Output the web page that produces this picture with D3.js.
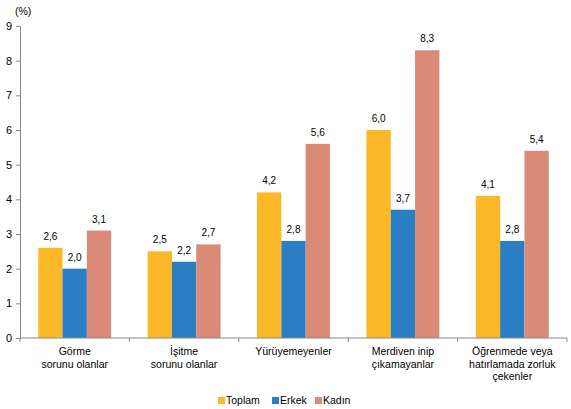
<!DOCTYPE html>
<html><head><meta charset="utf-8">
<script src="https://cdn.jsdelivr.net/npm/d3@7/dist/d3.min.js"></script>
<style>body{margin:0;background:#fff}svg{display:block;font-family:"Liberation Sans",Arial,sans-serif}</style>
</head><body><svg id="c" width="571" height="409"></svg>
<script>
const categories = [["Görme","sorunu olanlar"],["İşitme","sorunu olanlar"],["Yürüyemeyenler"],["Merdiven inip","çıkamayanlar"],["Öğrenmede veya","hatırlamada zorluk","çekenler"]];
const seriesNames = ["Toplam","Erkek","Kadın"];
const toplam = [2.6, 2.5, 4.2, 6.0, 4.1];
const erkek = [2.0, 2.2, 2.8, 3.7, 2.8];
const kadin = [3.1, 2.7, 5.6, 8.3, 5.4];
const yTicks = [0,1,2,3,4,5,6,7,8,9];
const colors = ["#FDB827","#2B7EC3","#D98B77"];
const series = [toplam, erkek, kadin];

(function(){
const svg = d3.select("#c");
const mL = 20, mR = 567, mT = 26, mB = 338;
const x0 = d3.scaleBand().domain(d3.range(categories.length)).range([mL, mR]);
const x1 = d3.scaleBand().domain(d3.range(series.length)).range([0, x0.bandwidth()]).paddingOuter(0.75);
const y = d3.scaleLinear().domain([0, 9]).range([mB, mT]);

series.forEach((s, si) => {
  svg.append("g").selectAll("rect").data(s).join("rect")
    .attr("x", (d, i) => x0(i) + x1(si))
    .attr("width", x1.bandwidth())
    .attr("y", d => y(d))
    .attr("height", d => y(0) - y(d))
    .attr("fill", colors[si]);
  svg.append("g").selectAll("text").data(s).join("text")
    .attr("x", (d, i) => x0(i) + x1(si) + x1.bandwidth() / 2)
    .attr("y", d => y(d) - 8)
    .attr("text-anchor", "middle")
    .attr("font-size", 10)
    .attr("fill", "#000")
    .text(d => d.toFixed(1).replace(".", ","));
});

const ya = svg.append("g").attr("transform", `translate(${mL},0)`)
  .call(d3.axisLeft(y).tickValues(yTicks).tickSize(4).tickPadding(4).tickFormat(d3.format("d")));
ya.select(".domain").attr("stroke", "#888");
ya.selectAll(".tick line").attr("stroke", "#888");
ya.selectAll(".tick text").attr("font-size", 11).attr("fill", "#000").attr("font-family", "Liberation Sans, Arial, sans-serif");

const xa = svg.append("g").attr("transform", `translate(0,${mB})`);
xa.append("line").attr("x1", mL).attr("x2", mR).attr("y1", 0).attr("y2", 0).attr("stroke", "#888");
xa.selectAll("line.t").data(d3.range(categories.length + 1)).join("line").attr("class", "t")
  .attr("x1", i => i < categories.length ? x0(i) : mR).attr("x2", i => i < categories.length ? x0(i) : mR)
  .attr("y1", 0).attr("y2", 4).attr("stroke", "#888");
categories.forEach((lines, i) => {
  const cx = x0(i) + x0.bandwidth() / 2;
  const t = xa.append("text").attr("text-anchor", "middle").attr("font-size", 10.5).attr("fill", "#000")
    .attr("x", cx).attr("y", 17);
  lines.forEach((l, j) => t.append("tspan").attr("x", cx).attr("dy", j === 0 ? 0 : 12.5).text(l));
});

svg.append("text").attr("x", 15).attr("y", 15).attr("font-size", 10.5).text("(%)");

const legX = [218, 272, 315];
seriesNames.forEach((n, i) => {
  svg.append("rect").attr("x", legX[i]).attr("y", 397).attr("width", 7).attr("height", 7).attr("fill", colors[i]);
  svg.append("text").attr("x", legX[i] + 8).attr("y", 404).attr("font-size", 10.5).text(n);
});
})();
</script></body></html>
